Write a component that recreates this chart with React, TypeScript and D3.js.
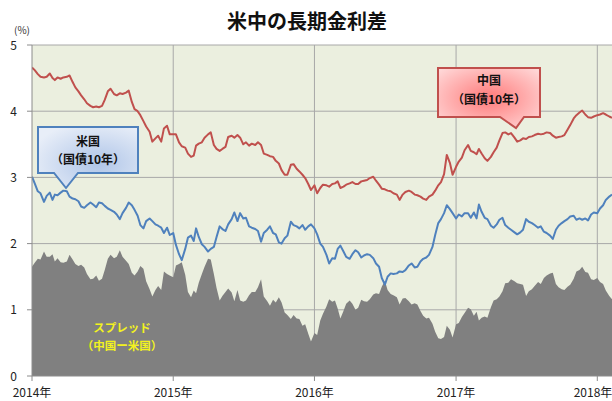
import React from 'react';
import * as d3 from 'd3';

const TITLE = '米中の長期金利差';
const UNIT_LABEL = '(%)';
const YEAR_TICKS = [2014, 2015, 2016, 2017, 2018];
const Y_TICKS = [0, 1, 2, 3, 4, 5];
const WEEK_DAYS = [1, 8, 16, 23];
const START_YEAR = 2014;

// China 10Y government bond yield (%), 4 readings per month
const CN_2014 = [4.66,4.62,4.56,4.52, 4.51,4.52,4.57,4.50, 4.47,4.51,4.49,4.51, 4.52,4.54,4.44,4.36, 4.30,4.24,4.18,4.12, 4.08,4.06,4.07,4.06, 4.08,4.17,4.30,4.34, 4.26,4.24,4.27,4.26, 4.28,4.31,4.14,4.03, 4.00,3.94,3.85,3.77, 3.69,3.54,3.59,3.63, 3.54,3.74,3.78,3.65];
const CN_2015 = [3.65,3.65,3.53,3.47, 3.45,3.36,3.31,3.33, 3.48,3.51,3.53,3.60, 3.65,3.68,3.49,3.43, 3.40,3.43,3.46,3.61, 3.63,3.60,3.64,3.60, 3.50,3.53,3.48,3.51, 3.49,3.53,3.49,3.36, 3.34,3.32,3.31,3.25, 3.21,3.11,3.04,3.04, 3.19,3.20,3.13,3.09, 3.04,2.99,2.90,2.81];
const CN_2016 = [2.88,2.76,2.84,2.89, 2.88,2.86,2.90,2.91, 2.94,2.84,2.86,2.89, 2.91,2.93,2.90,2.90, 2.94,2.95,2.96,2.99, 3.01,2.95,2.89,2.83, 2.82,2.80,2.79,2.76, 2.74,2.66,2.74,2.78, 2.80,2.78,2.74,2.73, 2.71,2.68,2.66,2.71, 2.74,2.80,2.88,2.93, 3.05,3.34,3.22,3.04];
const CN_2017 = [3.16,3.24,3.30,3.41, 3.49,3.40,3.38,3.35, 3.43,3.36,3.29,3.25, 3.31,3.38,3.45,3.56, 3.67,3.68,3.65,3.67, 3.60,3.54,3.56,3.59, 3.58,3.61,3.62,3.64, 3.66,3.65,3.66,3.68, 3.67,3.63,3.60,3.61, 3.62,3.64,3.72,3.79, 3.89,3.94,3.98,4.01, 3.95,3.91,3.90,3.92];
const CN_2018 = [3.94,3.95,3.97,3.95, 3.92,3.90];

// US 10Y Treasury yield (%), same dates
const US_2014 = [3.01,2.91,2.79,2.76, 2.63,2.72,2.77,2.66, 2.74,2.73,2.77,2.80, 2.79,2.71,2.68,2.67, 2.64,2.56,2.54,2.58, 2.62,2.59,2.55,2.62, 2.61,2.57,2.53,2.51, 2.48,2.44,2.37,2.46, 2.54,2.62,2.58,2.51, 2.42,2.28,2.23,2.34, 2.38,2.34,2.29,2.27, 2.24,2.16,2.24,2.13];
const US_2015 = [2.16,1.98,1.84,1.75, 1.92,2.09,2.12,2.04, 2.23,2.10,1.99,1.95, 1.88,1.92,1.95,2.10, 2.26,2.22,2.19,2.29, 2.37,2.47,2.34,2.46, 2.38,2.39,2.26,2.24, 2.22,2.19,2.03,2.16, 2.21,2.26,2.16,2.14, 2.02,2.00,2.08,2.12, 2.33,2.28,2.26,2.23, 2.28,2.21,2.26,2.29];
const US_2016 = [2.23,2.14,2.00,1.95, 1.83,1.70,1.78,1.77, 1.92,1.97,1.88,1.80, 1.77,1.84,1.90,1.87, 1.79,1.82,1.84,1.83, 1.78,1.70,1.65,1.48, 1.38,1.50,1.55,1.54, 1.55,1.58,1.57,1.60, 1.67,1.70,1.64,1.65, 1.73,1.77,1.79,1.83, 1.95,2.13,2.31,2.37, 2.46,2.58,2.52,2.46];
const US_2017 = [2.38,2.44,2.41,2.46, 2.46,2.39,2.47,2.38, 2.59,2.48,2.39,2.37, 2.27,2.24,2.29,2.36, 2.39,2.28,2.24,2.21, 2.17,2.14,2.17,2.21, 2.37,2.33,2.31,2.28, 2.24,2.26,2.18,2.16, 2.12,2.07,2.21,2.27, 2.31,2.34,2.37,2.41, 2.42,2.36,2.38,2.36, 2.38,2.35,2.44,2.47];
const US_2018 = [2.46,2.53,2.58,2.66, 2.71,2.74];

const CN = [...CN_2014, ...CN_2015, ...CN_2016, ...CN_2017, ...CN_2018];
const US = [...US_2014, ...US_2015, ...US_2016, ...US_2017, ...US_2018];

type Pt = { date: Date; cn: number; us: number };
const DATA: Pt[] = CN.map((cn, i) => ({
  date: new Date(START_YEAR + Math.floor(i / 48), Math.floor(i / 4) % 12, WEEK_DAYS[i % 4]),
  cn,
  us: US[i],
}));

const W = 612;
const H = 401;
const L = 32, R = 612, T = 45, B = 376;
const FONT = '"Noto Sans CJK JP", "Noto Sans", sans-serif';

export default function App() {
  const x = d3.scaleTime().domain([new Date(2014, 0, 1), new Date(2018, 1, 8)]).range([L, R]);
  const y = d3.scaleLinear().domain([0, 5]).range([B, T]);

  const area = d3.area<Pt>().x(d => x(d.date)).y0(y(0)).y1(d => y(d.cn - d.us));
  const lineCN = d3.line<Pt>().x(d => x(d.date)).y(d => y(d.cn));
  const lineUS = d3.line<Pt>().x(d => x(d.date)).y(d => y(d.us));

  const callout = (x0: number, y0: number, x1: number, y1: number, pl: number, pr: number, tx: number, ty: number) =>
    `M${x0},${y0}H${x1}V${y1}H${pr}L${tx},${ty}L${pl},${y1}H${x0}Z`;

  return (
    <svg width={W} height={H} style={{ position: 'absolute', left: 0, top: 0, background: '#fff' }}>
      <defs>
        <clipPath id="plot"><rect x={L} y={T} width={R - L} height={B - T} /></clipPath>
        <radialGradient id="gBlue" cx="60%" cy="60%" r="70%">
          <stop offset="0%" stopColor="#AFC5E8" />
          <stop offset="100%" stopColor="#E8EEF8" />
        </radialGradient>
        <radialGradient id="gRed" cx="50%" cy="50%" r="70%">
          <stop offset="0%" stopColor="#FF7A7A" />
          <stop offset="100%" stopColor="#FFDCDC" />
        </radialGradient>
      </defs>

      <text x={307} y={29} textAnchor="middle" fontFamily={FONT} fontWeight="bold" fontSize={20} fill="#111">{TITLE}</text>
      <text x={22} y={34} textAnchor="middle" fontFamily={FONT} fontSize={10} fill="#333">{UNIT_LABEL}</text>

      <rect x={L} y={T} width={R - L} height={B - T} fill="#EBEFDF" />
      {Y_TICKS.filter(v => v > 0).map(v => (
        <line key={'h' + v} x1={L} x2={R} y1={y(v)} y2={y(v)} stroke="#A8A8A8" strokeWidth={1} />
      ))}
      {YEAR_TICKS.slice(1).map(yr => (
        <line key={'v' + yr} x1={x(new Date(yr, 0, 1))} x2={x(new Date(yr, 0, 1))} y1={T} y2={B} stroke="#A8A8A8" strokeWidth={1} />
      ))}

      <g clipPath="url(#plot)">
        <path d={area(DATA) || ''} fill="#808080" />
        <path d={lineCN(DATA) || ''} fill="none" stroke="#C0504D" strokeWidth={2} strokeLinejoin="round" />
        <path d={lineUS(DATA) || ''} fill="none" stroke="#4F81BD" strokeWidth={2} strokeLinejoin="round" />
      </g>

      <line x1={L} x2={L} y1={T} y2={B} stroke="#8C8C8C" />
      <line x1={L} x2={R} y1={B} y2={B} stroke="#8C8C8C" />
      {Y_TICKS.map(v => (
        <g key={'yt' + v}>
          <line x1={L - 5} x2={L} y1={y(v)} y2={y(v)} stroke="#8C8C8C" />
          <text x={17} y={y(v) + 4.5} textAnchor="end" fontFamily={FONT} fontSize={12} fill="#222">{v}</text>
        </g>
      ))}
      {YEAR_TICKS.map(yr => {
        const xx = x(new Date(yr, 0, 1));
        return (
          <g key={'xt' + yr}>
            <line x1={xx} x2={xx} y1={B} y2={B + 5} stroke="#8C8C8C" />
            <text x={Math.min(xx, W - 19)} y={397} textAnchor="middle" fontFamily={FONT} fontSize={12} fill="#222">{yr + '年'}</text>
          </g>
        );
      })}

      <path d={callout(38, 127, 138, 173, 54, 78, 66, 188)} fill="url(#gBlue)" stroke="#4F81BD" strokeWidth={2} />
      <text x={88} y={146} textAnchor="middle" fontFamily={FONT} fontWeight="bold" fontSize={12} fill="#111">米国</text>
      <text x={88} y={164} textAnchor="middle" fontFamily={FONT} fontWeight="bold" fontSize={12} fill="#111">（国債10年）</text>

      <path d={callout(438, 68, 540, 117, 500, 524, 516, 128)} fill="url(#gRed)" stroke="#C0504D" strokeWidth={2} />
      <text x={489} y={85} textAnchor="middle" fontFamily={FONT} fontWeight="bold" fontSize={12} fill="#111">中国</text>
      <text x={489} y={104} textAnchor="middle" fontFamily={FONT} fontWeight="bold" fontSize={12} fill="#111">（国債10年）</text>

      <text x={122} y={332} textAnchor="middle" fontFamily={FONT} fontWeight="bold" fontSize={11.5} fill="#F2F21E">スプレッド</text>
      <text x={122} y={350} textAnchor="middle" fontFamily={FONT} fontWeight="bold" fontSize={11.5} fill="#F2F21E">（中国ー米国）</text>
    </svg>
  );
}
